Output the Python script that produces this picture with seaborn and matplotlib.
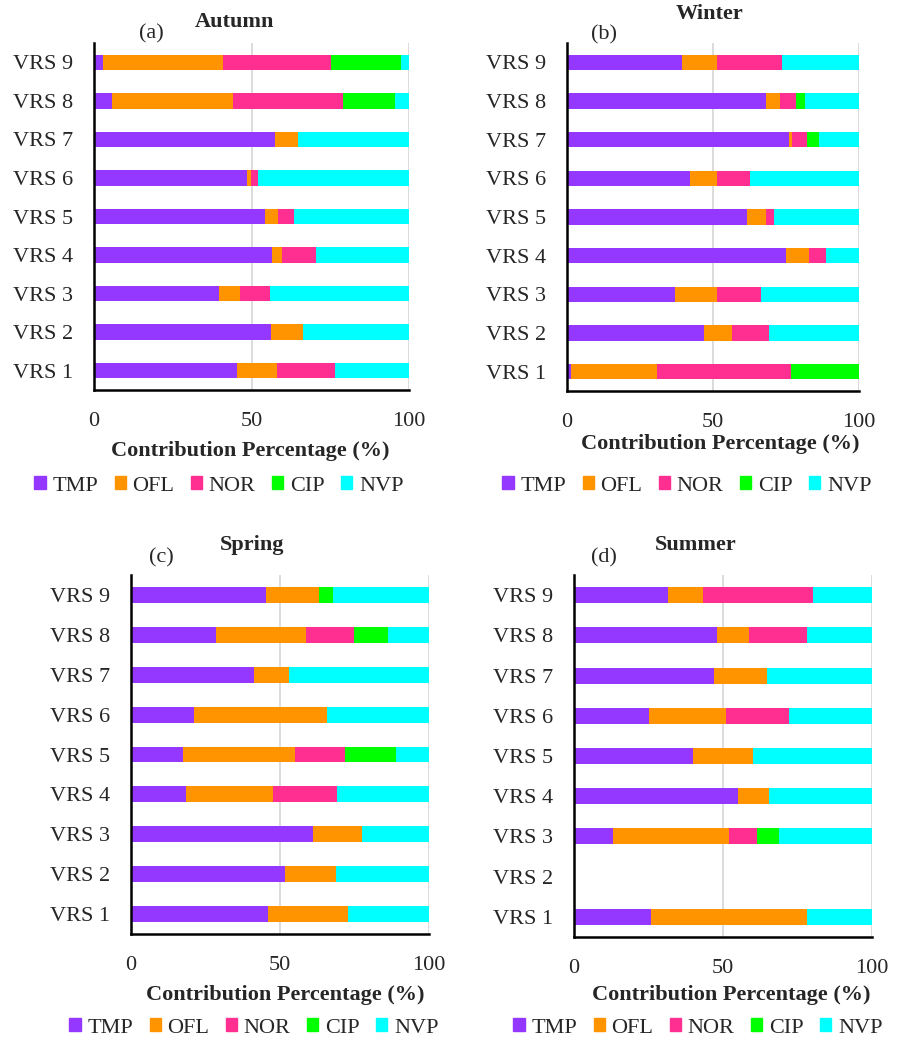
import numpy as np
import pandas as pd
import matplotlib
matplotlib.use("Agg")
import matplotlib.pyplot as plt
import matplotlib.patches as mpatches
import seaborn as sns

# ---------------- data ----------------
sites = ["VRS 1", "VRS 2", "VRS 3", "VRS 4", "VRS 5", "VRS 6", "VRS 7", "VRS 8", "VRS 9"]
components = ["TMP", "OFL", "NOR", "CIP", "NVP"]
colors = ["#9437FF", "#FF9300", "#FF2F92", "#00FF00", "#00FFFF"]
seasons = ["Autumn", "Winter", "Spring", "Summer"]
panel_tags = ["(a)", "(b)", "(c)", "(d)"]

autumn_tmp = [45.4, 56.2, 39.7, 56.5, 54.3, 48.6, 57.5, 5.7, 3.0]
autumn_ofl = [12.6, 10.3, 6.5, 3.3, 4.1, 1.3, 7.2, 38.3, 38.0]
autumn_nor = [18.5, 0.0, 9.7, 10.8, 5.1, 2.2, 0.0, 35.2, 34.2]
autumn_cip = [0.0, 0.0, 0.0, 0.0, 0.0, 0.0, 0.0, 16.4, 22.3]
autumn_nvp = [23.5, 33.5, 44.1, 29.4, 36.5, 47.9, 35.3, 4.4, 2.5]

winter_tmp = [1.5, 46.9, 37.0, 74.9, 61.6, 42.1, 76.1, 68.0, 39.5]
winter_ofl = [29.4, 9.5, 14.5, 8.1, 6.4, 9.4, 0.8, 4.8, 11.8]
winter_nor = [45.8, 12.7, 15.0, 5.8, 3.0, 11.1, 5.3, 5.7, 22.3]
winter_cip = [23.3, 0.0, 0.0, 0.0, 0.0, 0.0, 4.0, 2.9, 0.0]
winter_nvp = [0.0, 30.9, 33.5, 11.2, 29.0, 37.4, 13.8, 18.6, 26.4]

spring_tmp = [46.0, 51.7, 61.0, 18.5, 17.4, 21.1, 41.4, 28.5, 45.3]
spring_ofl = [26.9, 17.1, 16.6, 29.2, 37.6, 44.7, 11.7, 30.1, 17.9]
spring_nor = [0.0, 0.0, 0.0, 21.5, 16.9, 0.0, 0.0, 16.3, 0.0]
spring_cip = [0.0, 0.0, 0.0, 0.0, 17.0, 0.0, 0.0, 11.2, 4.6]
spring_nvp = [27.1, 31.2, 22.4, 30.8, 11.1, 34.2, 46.9, 13.9, 32.2]

summer_tmp = [25.8, 0.0, 13.0, 55.0, 39.9, 25.3, 47.0, 48.0, 31.6]
summer_ofl = [52.5, 0.0, 39.1, 10.5, 20.0, 25.7, 17.7, 10.6, 11.7]
summer_nor = [0.0, 0.0, 9.3, 0.0, 0.0, 21.2, 0.0, 19.7, 37.0]
summer_cip = [0.0, 0.0, 7.3, 0.0, 0.0, 0.0, 0.0, 0.0, 0.0]
summer_nvp = [21.7, 0.0, 31.3, 34.5, 40.1, 27.8, 35.3, 21.7, 19.7]

x_ticks = [0, 50, 100]
x_label = "Contribution Percentage (%)"

season_data = {
    "Autumn": [autumn_tmp, autumn_ofl, autumn_nor, autumn_cip, autumn_nvp],
    "Winter": [winter_tmp, winter_ofl, winter_nor, winter_cip, winter_nvp],
    "Spring": [spring_tmp, spring_ofl, spring_nor, spring_cip, spring_nvp],
    "Summer": [summer_tmp, summer_ofl, summer_nor, summer_cip, summer_nvp],
}

rows = []
for s in seasons:
    vals = np.array(season_data[s])
    cum = np.cumsum(vals, axis=0)
    for ci, c in enumerate(components):
        for si, site in enumerate(sites):
            rows.append(dict(season=s, component=c, site=site,
                             value=vals[ci, si], cum=cum[ci, si]))
df = pd.DataFrame(rows)

# ---------------- style ----------------
sns.set_style("white")
plt.rcParams["font.family"] = ["Liberation Serif", "DejaVu Serif"]

W, H = 901, 1043
fig = plt.figure(figsize=(W / 100, H / 100), dpi=100)


def fx(x):
    return x / W


def fy(y):
    return 1 - y / H


# axes boxes in pixels: left, top, right, bottom
boxes = [(94, 43, 409, 390), (567, 43, 859, 391),
         (131, 575, 429, 934), (574, 575, 872, 937)]
titles_pos = [(234, 22), (710, 14), (252, 545), (696, 545)]
tags_pos = [(151, 34), (604, 35), (161, 558), (604, 558)]
xlabel_pos = [(250, 451), (720, 444), (285, 995), (731, 995)]
legend_pos = [(219, 486), (687, 486), (254, 1028), (698, 1028)]

order = sites[::-1]

for i, s in enumerate(seasons):
    l, t, r, b = boxes[i]
    ax = fig.add_axes([fx(l), fy(b), fx(r) - fx(l), (b - t) / H])
    sub = df[df.season == s]
    for c, col in reversed(list(zip(components, colors))):
        d = sub[sub.component == c]
        sns.barplot(data=d, x="cum", y="site", order=order, orient="h",
                    color=col, saturation=1, width=0.4, errorbar=None,
                    linewidth=0, ax=ax)
    ax.set_xlim(0, 100)
    ax.set_xticks(x_ticks)
    ax.set_xlabel("")
    ax.set_ylabel("")
    ax.xaxis.grid(True, color="#d9d9d9", linewidth=1.3)
    ax.yaxis.grid(False)
    ax.set_axisbelow(True)
    for sp in ["top", "right"]:
        ax.spines[sp].set_visible(False)
    for sp in ["left", "bottom"]:
        ax.spines[sp].set_color("black")
        ax.spines[sp].set_linewidth(1.8)
    ax.tick_params(axis="y", length=0, labelsize=16, pad=15)
    ax.tick_params(axis="x", length=0, labelsize=16, pad=15.5)

    fig.text(fx(titles_pos[i][0]), fy(titles_pos[i][1]), s, fontsize=16,
             fontweight="bold", ha="center", va="center")
    fig.text(fx(tags_pos[i][0]), fy(tags_pos[i][1]), panel_tags[i], fontsize=16,
             ha="center", va="center")
    fig.text(fx(xlabel_pos[i][0]), fy(xlabel_pos[i][1]), x_label, fontsize=16,
             fontweight="bold", ha="center", va="center")

    handles = [mpatches.Patch(color=col, label=c) for c, col in zip(components, colors)]
    fig.legend(handles=handles, loc="center",
               bbox_to_anchor=(fx(legend_pos[i][0]), fy(legend_pos[i][1])),
               ncol=5, frameon=False, fontsize=16, handlelength=0.5,
               handleheight=0.5, handletextpad=0.3, columnspacing=0.75,
               borderpad=0, borderaxespad=0)

fig.savefig("out.png", dpi=100)
